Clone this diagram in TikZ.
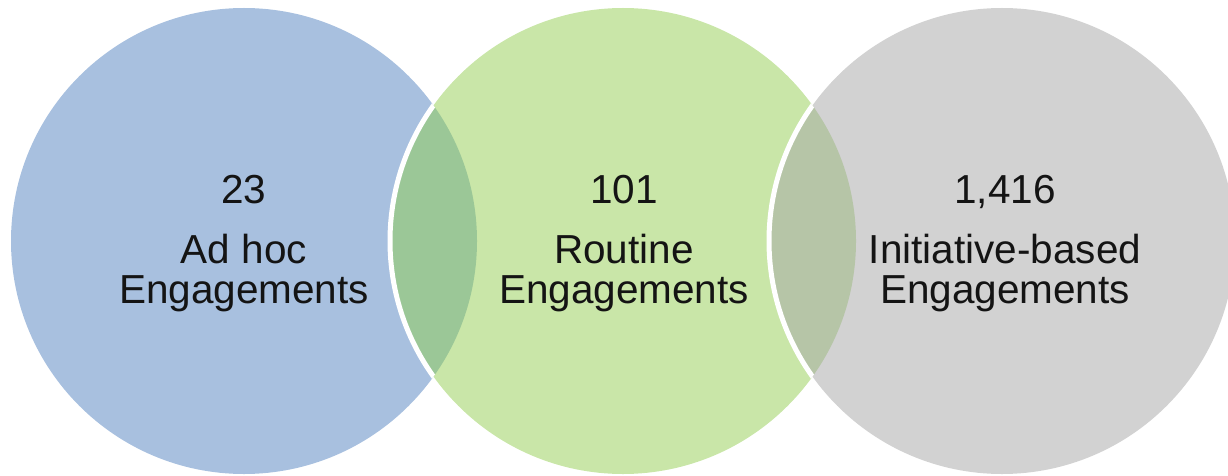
\documentclass[tikz,border=0pt]{standalone}
\usepackage{fontspec}
\setmainfont{Liberation Sans}
\definecolor{cblue}{HTML}{A8C0DF}
\definecolor{cgreen}{HTML}{C9E6A8}
\definecolor{cgray}{HTML}{D2D2D2}
\definecolor{lensbg}{HTML}{9BC797}
\definecolor{lensgg}{HTML}{B6C5A7}
\definecolor{txt}{HTML}{141414}
\begin{document}
\begin{tikzpicture}[x=1pt,y=-1pt,
  lbl/.style={anchor=base,inner sep=0pt,text=txt,font=\fontsize{40.5}{40}\selectfont},
  rim/.style={white,line width=5pt}]
\useasboundingbox (0,0) rectangle (1228,476);
\clip (0,0) rectangle (1228,476);
\def\R{233}
\coordinate (cA) at (244,241);
\coordinate (cB) at (623,241);
\coordinate (cC) at (1002,241);
\fill[cblue] (cA) circle[radius=\R];
\fill[cgreen] (cB) circle[radius=\R];
\fill[cgray] (cC) circle[radius=\R];
\begin{scope}
  \clip (cA) circle[radius=\R];
  \fill[lensbg] (cB) circle[radius=\R];
  \draw[rim] (cB) circle[radius=\R];
\end{scope}
\begin{scope}
  \clip (cB) circle[radius=\R];
  \fill[lensgg] (cC) circle[radius=\R];
  \draw[rim] (cC) circle[radius=\R];
\end{scope}
\node[lbl] (nA) at (244,203) {23};
\node[lbl] (lA1) at (244,263) {Ad hoc};
\node[lbl] (lA2) at (244,303) {Engagements};
\node[lbl] (nB) at (624,203) {101};
\node[lbl] (lB1) at (624,263) {Routine};
\node[lbl] (lB2) at (624,303) {Engagements};
\node[lbl] (nC) at (1005,203) {1,416};
\node[lbl] (lC1) at (1005,263) {Initiative-based};
\node[lbl] (lC2) at (1005,303) {Engagements};
\end{tikzpicture}
\end{document}
